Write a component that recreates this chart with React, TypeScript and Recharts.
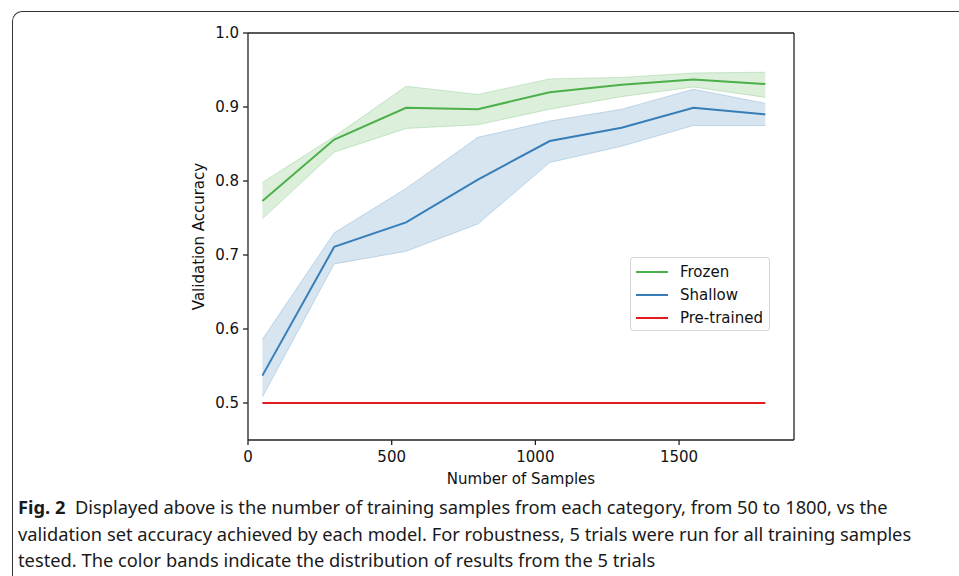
import { ComposedChart, Line, Area, XAxis, YAxis, ReferenceLine, Legend } from 'recharts';

// number of training samples per category
const samples = [50, 300, 550, 800, 1050, 1300, 1550, 1800];

// validation accuracy, mean and band (min/max of 5 trials)
const frozenMean = [0.773, 0.856, 0.899, 0.897, 0.92, 0.93, 0.937, 0.931];
const frozenLow = [0.749, 0.839, 0.871, 0.876, 0.897, 0.914, 0.927, 0.913];
const frozenHigh = [0.798, 0.86, 0.928, 0.917, 0.938, 0.94, 0.946, 0.947];

const shallowMean = [0.537, 0.711, 0.744, 0.802, 0.854, 0.872, 0.899, 0.89];
const shallowLow = [0.508, 0.688, 0.705, 0.742, 0.825, 0.847, 0.875, 0.875];
const shallowHigh = [0.586, 0.73, 0.79, 0.859, 0.881, 0.897, 0.924, 0.905];

const pretrained = [0.5, 0.5, 0.5, 0.5, 0.5, 0.5, 0.5, 0.5];

const xTicks = [0, 500, 1000, 1500];
const yTicks = [0.5, 0.6, 0.7, 0.8, 0.9, 1.0];

const series = [
  { name: 'Frozen', color: '#4daf4a' },
  { name: 'Shallow', color: '#377eb8' },
  { name: 'Pre-trained', color: '#e41a1c' },
];

const data = samples.map((n, i) => ({
  n,
  frozen: frozenMean[i],
  frozenBand: [frozenLow[i], frozenHigh[i]],
  shallow: shallowMean[i],
  shallowBand: [shallowLow[i], shallowHigh[i]],
  pretrained: pretrained[i],
}));

const tickFont = { fontFamily: 'DejaVu Sans', fontSize: 15, fill: '#111' };
const axisColor = '#222';

const LegendBox = () => (
  <div
    style={{
      width: 140,
      height: 74,
      border: '1px solid #d6d6d6',
      borderRadius: 3,
      background: 'rgba(255,255,255,0.8)',
      fontFamily: 'DejaVu Sans',
      fontSize: 15,
      color: '#111',
      boxSizing: 'border-box',
      paddingTop: 2,
    }}
  >
    {series.map((s) => (
      <div key={s.name} style={{ display: 'flex', alignItems: 'center', height: 23 }}>
        <span style={{ display: 'inline-block', width: 32, height: 2, background: s.color, marginLeft: 5, marginRight: 12 }} />
        <span>{s.name}</span>
      </div>
    ))}
  </div>
);

export default function App() {
  return (
    <div style={{ position: 'absolute', left: 0, top: 0, width: 959, height: 576, overflow: 'hidden', background: '#fff' }}>
      <div
        style={{
          position: 'absolute',
          left: 12,
          top: 11,
          width: 1100,
          height: 800,
          borderTop: '1.5px solid #333',
          borderLeft: '1.5px solid #333',
          borderTopLeftRadius: 10,
        }}
      />
      <div style={{ position: 'absolute', left: 0, top: 0 }}>
        <ComposedChart width={959} height={576} data={data} margin={{ top: 33, right: 165, bottom: 58, left: 149 }}>
          <XAxis
            dataKey="n"
            type="number"
            domain={[0, 1900]}
            ticks={xTicks}
            height={78}
            tick={tickFont}
            tickSize={5}
            tickMargin={6}
            stroke={axisColor}
            strokeWidth={1.3}
            label={{ value: 'Number of Samples', position: 'center', style: { ...tickFont } }}
          />
          <YAxis
            type="number"
            domain={[0.45, 1.0]}
            ticks={yTicks}
            width={99}
            tick={tickFont}
            tickSize={5}
            tickMargin={4}
            tickFormatter={(v: number) => v.toFixed(1)}
            stroke={axisColor}
            strokeWidth={1.3}
            allowDataOverflow
            label={{ value: 'Validation Accuracy', angle: -90, position: 'center', style: { ...tickFont } }}
          />
          <ReferenceLine y={1.0} stroke={axisColor} strokeWidth={1.3} />
          <ReferenceLine x={1900} stroke={axisColor} strokeWidth={1.3} />
          <Area
            dataKey="frozenBand"
            stroke="#4daf4a"
            strokeOpacity={0.25}
            fill="#4daf4a"
            fillOpacity={0.2}
            isAnimationActive={false}
            legendType="none"
            activeDot={false}
          />
          <Area
            dataKey="shallowBand"
            stroke="#377eb8"
            strokeOpacity={0.25}
            fill="#377eb8"
            fillOpacity={0.2}
            isAnimationActive={false}
            legendType="none"
            activeDot={false}
          />
          <Line dataKey="frozen" name="Frozen" stroke="#4daf4a" strokeWidth={2} dot={false} isAnimationActive={false} />
          <Line dataKey="shallow" name="Shallow" stroke="#377eb8" strokeWidth={2} dot={false} isAnimationActive={false} />
          <Line dataKey="pretrained" name="Pre-trained" stroke="#e41a1c" strokeWidth={2} dot={false} isAnimationActive={false} />
          <Legend
            layout="vertical"
            align="center"
            verticalAlign="middle"
            content={() => <LegendBox />}
            wrapperStyle={{ left: 630, top: 257, width: 140 }}
          />
        </ComposedChart>
      </div>
      <div
        style={{
          position: 'absolute',
          left: 18,
          top: 494,
          fontFamily: 'Noto Sans',
          fontSize: 18.3,
          lineHeight: '26.5px',
          color: '#1a1a1a',
          whiteSpace: 'nowrap',
        }}
      >
        <b>Fig. 2</b>&nbsp; Displayed above is the number of training samples from each category, from 50 to 1800, vs the
        <br />
        validation set accuracy achieved by each model. For robustness, 5 trials were run for all training samples
        <br />
        tested. The color bands indicate the distribution of results from the 5 trials
      </div>
    </div>
  );
}
